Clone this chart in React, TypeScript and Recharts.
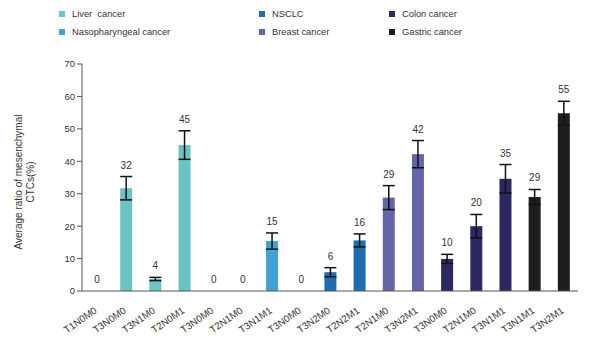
import React from 'react';
import { BarChart, Bar, XAxis, YAxis, Cell, ErrorBar } from 'recharts';

const stages = ['T1N0M0', 'T3N0M0', 'T3N1M0', 'T2N0M1', 'T3N0M0', 'T2N1M0', 'T3N1M1', 'T3N0M0', 'T3N2M0', 'T2N2M1', 'T2N1M0', 'T3N2M1', 'T3N0M0', 'T2N1M0', 'T3N1M1', 'T3N1M1', 'T3N2M1'];
const cancerOf = ['Liver', 'Liver', 'Liver', 'Liver', 'Naso', 'Naso', 'Naso', 'NSCLC', 'NSCLC', 'NSCLC', 'Breast', 'Breast', 'Colon', 'Colon', 'Colon', 'Gastric', 'Gastric'];
const ratios = [0, 31.7, 3.7, 45, 0, 0, 15.4, 0, 5.8, 15.6, 28.8, 42.2, 9.9, 20, 34.6, 29, 54.8];
const errors = [0, 3.6, 0.5, 4.4, 0, 0, 2.5, 0, 1.4, 2, 3.7, 4.2, 1.4, 3.6, 4.4, 2.3, 3.7];
const yTicks = [0, 10, 20, 30, 40, 50, 60, 70];

const colors: Record<string, string> = {
  Liver: '#6cc3c4',
  Naso: '#42a2d6',
  NSCLC: '#1d6db0',
  Breast: '#6465a8',
  Colon: '#2c2862',
  Gastric: '#1e1e1e',
};

const legend = [
  { key: 'Liver', label: 'Liver  cancer', x: 59, y: 14 },
  { key: 'Naso', label: 'Nasopharyngeal cancer', x: 59, y: 32 },
  { key: 'NSCLC', label: 'NSCLC', x: 259, y: 14 },
  { key: 'Breast', label: 'Breast cancer', x: 259, y: 32 },
  { key: 'Colon', label: 'Colon cancer', x: 389, y: 14 },
  { key: 'Gastric', label: 'Gastric cancer', x: 389, y: 32 },
];

const data = stages.map((s, i) => ({ stage: s, ratio: ratios[i], err: errors[i] }));

const font = 'Liberation Sans, Arial, sans-serif';

const XTick = (props: any) => {
  const { x, y, payload } = props;
  const tx = x + 1;
  const ty = y + 13;
  return (
    <text x={tx} y={ty} transform={`rotate(-35, ${tx}, ${ty})`} textAnchor="end" fontSize={9.8} fill="#333" fontFamily={font}>
      {payload.value}
    </text>
  );
};

// bar plus its value label, placed above the error bar
const BarWithLabel = (props: any) => {
  const { x, y, width, height, fill, index } = props;
  const value = ratios[index];
  const pxPerUnit = value ? height / value : 0;
  const errPx = errors[index] * pxPerUnit;
  return (
    <g>
      {height > 0 && <rect x={x} y={y} width={width} height={height} fill={fill} />}
      <text x={x + width / 2} y={y - errPx - 8} textAnchor="middle" fontSize={10} fill="#333" fontFamily={font}>
        {String(Math.round(value))}
      </text>
    </g>
  );
};

const YLabel = () => (
  <text transform="translate(24, 182) rotate(-90)" textAnchor="middle" fontSize={10} fill="#333" fontFamily={font}>
    <tspan x={0} dy={-2}>Average ratio of mesenchymal</tspan>
    <tspan x={0} dy={12}>CTCs(%)</tspan>
  </text>
);

export default function App() {
  return (
    <div style={{ position: 'absolute', left: 0, top: 0, width: 594, height: 341, background: '#fff', fontFamily: font }}>
      {legend.map(l => (
        <div key={l.key} style={{ position: 'absolute', left: l.x, top: l.y - 7, height: 14, display: 'flex', alignItems: 'center', fontSize: 9.3, color: '#333', whiteSpace: 'pre' }}>
          <span style={{ display: 'inline-block', width: 6, height: 6, background: colors[l.key], marginRight: 7 }} />
          {l.label}
        </div>
      ))}
      <BarChart width={594} height={341} data={data} margin={{ top: 64, right: 16, bottom: 0, left: 0 }}>
        <XAxis dataKey="stage" interval={0} height={50} tickLine={false} axisLine={{ stroke: '#555' }} tick={<XTick />} />
        <YAxis
          width={82}
          domain={[0, 70]}
          ticks={yTicks}
          interval={0}
          tickSize={5}
          tickLine={{ stroke: '#555' }}
          axisLine={{ stroke: '#555' }}
          tick={{ fontSize: 9.5, fill: '#333', fontFamily: font }}
          label={<YLabel />}
        />
        <Bar dataKey="ratio" barSize={12} isAnimationActive={false} shape={<BarWithLabel />}>
          {data.map((d, i) => (
            <Cell key={i} fill={colors[cancerOf[i]]} />
          ))}
          <ErrorBar dataKey="err" width={6} stroke="#111" strokeWidth={1.5} direction="y" />
        </Bar>
      </BarChart>
    </div>
  );
}
